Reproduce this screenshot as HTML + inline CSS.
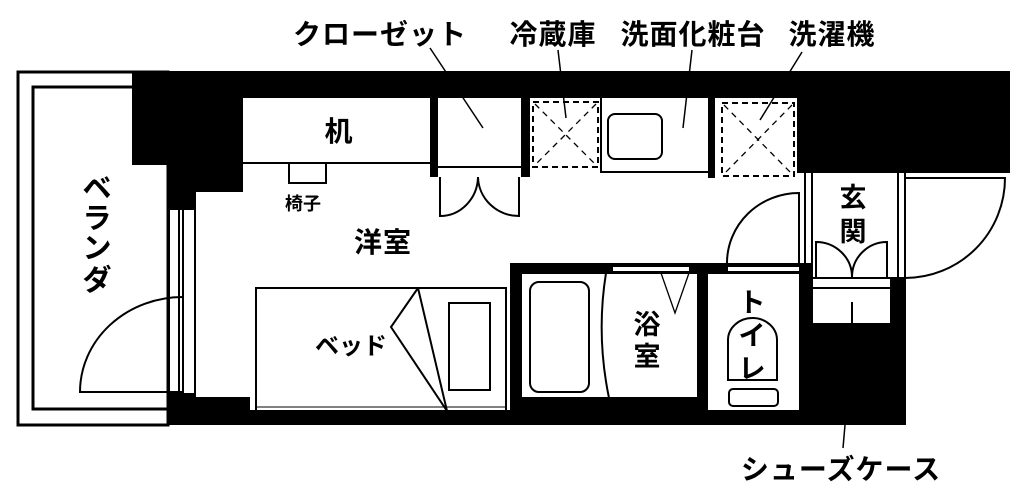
<!DOCTYPE html>
<html><head><meta charset="utf-8"><style>
html,body{margin:0;padding:0;background:#fff;width:1024px;height:499px;overflow:hidden}
svg{display:block}
text{font-family:"Liberation Sans","Noto Sans CJK JP",sans-serif;font-weight:bold;fill:#000}
</style></head><body>
<svg width="1024" height="499" viewBox="0 0 1024 499" xmlns="http://www.w3.org/2000/svg">
<g fill="none" stroke="#000" stroke-width="2">
<rect x="18" y="72" width="150" height="353" stroke-width="3"/>
<path d="M168 87 H33 V409 H168" stroke-width="3"/>
</g>
<g fill="#000">
<rect x="132" y="71" width="878" height="27"/>
<rect x="132" y="71" width="111" height="94"/>
<rect x="167" y="71" width="76" height="121"/>
<rect x="167" y="71" width="29" height="139"/>
<rect x="167" y="393" width="29" height="32"/>
<rect x="167" y="397" width="83" height="28"/>
<rect x="167" y="410" width="739" height="15"/>
<rect x="430" y="97" width="8" height="80"/>
<rect x="521" y="97" width="9" height="80"/>
<rect x="708" y="97" width="7" height="81"/>
<rect x="797" y="71" width="213" height="102"/>
<rect x="510" y="263" width="302" height="162"/>
<rect x="801" y="277" width="105" height="148"/>
</g>
<g fill="#fff" stroke="#000" stroke-width="2">
<rect x="521" y="273" width="177" height="125"/>
<rect x="707" y="273" width="93" height="138"/>
<rect x="612" y="266" width="78" height="6"/>
<rect x="727" y="266" width="73" height="6"/>
<rect x="812" y="278" width="79" height="46"/>
</g>
<g fill="none" stroke="#000" stroke-width="2">
<path d="M169 210 V393 M179 210 V393 M183 210 V393 M195 210 V393"/>
<path d="M183 392 H80 A103 95 0 0 1 183 297"/>
<path d="M243 163 H430"/>
<rect x="289" y="163" width="37" height="20"/>
<path d="M438 167 H521"/>
<path d="M440 177 V216 A38 40 0 0 0 478 177 M519 177 V216 A41 40 0 0 1 478 177"/>
<rect x="533" y="102" width="65" height="65" stroke-dasharray="6,4"/>
<path d="M535 104 L596 165 M596 104 L535 165" stroke-width="1.3" stroke-dasharray="6,5"/>
<path d="M601 97 V172 H708"/>
<rect x="608" y="114" width="54" height="45" rx="7"/>
<rect x="722" y="103" width="72" height="73" stroke-dasharray="6,4"/>
<path d="M724 105 L792 174 M792 105 L724 174" stroke-width="1.3" stroke-dasharray="6,5"/>
<path d="M805 173 V277 M812 173 V277 M898 173 V277 M905 173 V277"/>
<path d="M905 178 H1005 A100 100 0 0 1 905 278"/>
<path d="M816 277 V242 A36 35 0 0 1 852 277 M887 277 V242 A35 35 0 0 0 852 277"/>
<path d="M812 288 H891 M852 302 V324"/>
<path d="M799 263 V193 A72 70 0 0 0 727 263"/>
<rect x="530" y="282" width="59" height="110" rx="9"/>
<path d="M606 273 Q596 335 609 398"/>
<path d="M661 273 L675 313 L689 273" stroke-width="1.3"/>
<path d="M728 380 V340 A24.5 22 0 0 1 777 340 V380 Z"/>
<rect x="729" y="389" width="49" height="17" rx="4"/>
<rect x="256" y="288" width="250" height="123"/>
<path d="M256 407 H506" stroke-width="1"/>
<rect x="449" y="303" width="41" height="87"/>
<path d="M418 288 L391 327 L447 411 L418 288"/>
<path d="M430 48 L483 128 M558 50 L566 118 M692 50 L683 128 M802 52 L760 120 M845 425 L843 448" stroke-width="1.5"/>
</g>
<g font-size="28" letter-spacing="1">
<text x="380" y="44" text-anchor="middle">クローゼット</text>
<text x="553" y="44" text-anchor="middle">冷蔵庫</text>
<text x="693" y="44" text-anchor="middle">洗面化粧台</text>
<text x="832" y="44" text-anchor="middle">洗濯機</text>
<text x="841" y="479" text-anchor="middle">シューズケース</text>
<text x="339" y="141" text-anchor="middle">机</text>
<text x="383" y="252" text-anchor="middle">洋室</text>
</g>
<text x="303" y="210" font-size="18" text-anchor="middle">椅子</text>
<text x="351" y="354" font-size="24" text-anchor="middle">ベッド</text>
<g font-size="29" text-anchor="middle">
<text x="97" y="198">ベ</text><text x="97" y="228">ラ</text><text x="97" y="258">ン</text><text x="97" y="290">ダ</text>
</g>
<g font-size="27" text-anchor="middle">
<text x="647" y="334">浴</text><text x="647" y="366">室</text>
<text x="752" y="312">ト</text><text x="752" y="345">イ</text><text x="752" y="378">レ</text>
<text x="853" y="207">玄</text><text x="853" y="241">関</text>
</g>
</svg>
</body></html>
